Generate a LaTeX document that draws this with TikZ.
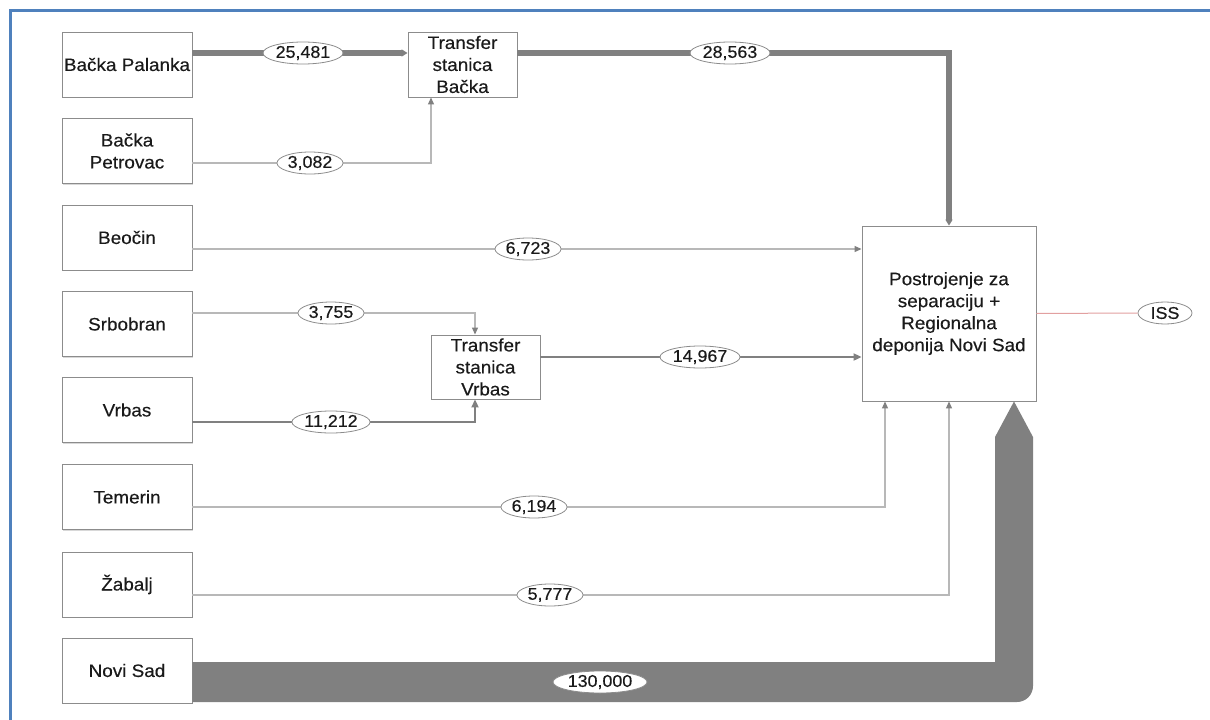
\documentclass[tikz,border=0pt]{standalone}
\usepackage{fontspec}
\setmainfont{Liberation Sans}[FakeStretch=1.05,FakeBold=0.3]
\usetikzlibrary{arrows.meta,shapes.geometric,shadows}
\definecolor{frameblue}{HTML}{4F81BD}
\definecolor{lgray}{HTML}{B8B8B8}
\definecolor{mgray}{HTML}{808080}
\definecolor{bgray}{HTML}{8C8C8C}
\definecolor{issred}{HTML}{E2A0A0}
\definecolor{txt}{HTML}{1A1A1A}
\begin{document}
\begin{tikzpicture}[x=1pt,y=-1pt,
  box/.style={draw=bgray, line width=0.9pt, fill=white, inner sep=0pt, align=center,
    minimum width=130pt, minimum height=65pt, text=txt,
    font=\fontsize{18}{22}\selectfont,
    drop shadow={shadow xshift=1.2pt, shadow yshift=-1.2pt, fill=black!30, opacity=0.5}},
  tbox/.style={box, minimum width=109pt, minimum height=65pt},
  lbl/.style={ellipse, draw=bgray, fill=white, line width=0.8pt, inner xsep=1pt, inner ysep=0pt,
    minimum height=22pt, text=txt, font=\fontsize{17}{17}\selectfont},
  thinc/.style={draw=lgray, line width=1.1pt, line join=miter,
    -{Triangle[length=7pt,width=6pt,color=mgray]}},
  medc/.style={draw=mgray, line width=2pt, line join=miter,
    -{Triangle[length=8pt,width=7pt]}},
  thickc/.style={draw=mgray, line width=5.5pt, line join=miter,
    -{Triangle[length=6pt,width=7pt]}},
  issline/.style={draw=issred, line width=1pt}
]
\useasboundingbox (0,0) rectangle (1210,720);
\fill[white] (0,0) rectangle (1210,720);
\draw[frameblue, line width=3pt] (10,721) -- (10,10) -- (1211,10);

% source boxes
\node[box] (bp)  at (127,64.5)  {Bačka Palanka};
\node[box] (bpe) at (127,151)   {Bačka\\Petrovac};
\node[box] (beo) at (127,237.5) {Beočin};
\node[box] (srb) at (127,324)   {Srbobran};
\node[box] (vrb) at (127,410)   {Vrbas};
\node[box] (tem) at (127,497)   {Temerin};
\node[box] (zab) at (127,584.5) {Žabalj};
\node[box] (ns)  at (127,670.5) {Novi Sad};

% transfer stations
\node[tbox] (tb) at (462.5,64.5) {Transfer\\stanica\\Bačka};
\node[tbox, minimum height=64pt] (tv) at (485.5,367) {Transfer\\stanica\\Vrbas};

% main plant
\node[box, minimum width=174pt, minimum height=175pt] (big) at (949,313.5)
  {Postrojenje za\\separaciju +\\Regionalna\\deponija Novi Sad};

% ISS
\node[lbl, minimum width=54pt, minimum height=22pt] (iss) at (1165,313) {ISS};

% Novi Sad band with arrow
\fill[mgray] (ns.east |- 0,662) -- (995,662) -- (995,437) -- (big.south -| 1014,0)
  -- (1033,437) -- (1033,686) arc[start angle=0, end angle=-90, radius=16pt]
  -- (ns.east |- 0,702) -- cycle;

% connectors
\draw[thickc] (bp.east |- 0,53) -- (tb.west |- 0,53);
\draw[thickc] (tb.east |- 0,53) -| (big.north);
\draw[thinc] (bpe.east |- 0,163) -| (tb.south -| 431,0);
\draw[thinc] (beo.east |- 0,249) -- (big.west |- 0,249);
\draw[thinc] (srb.east |- 0,313) -| (tv.north -| 475,0);
\draw[medc] (vrb.east |- 0,422) -| (tv.south -| 475,0);
\draw[medc] (tv.east |- 0,357) -- (big.west |- 0,357);
\draw[thinc] (tem.east |- 0,507) -| (big.south -| 885,0);
\draw[thinc] (zab.east |- 0,595) -| (big.south);
\draw[issline] (big.east) -- (iss.west);

% labels
\node[lbl] (l1) at (303,53)  {25,481};
\node[lbl] (l2) at (730,53)  {28,563};
\node[lbl] (l3) at (310,163) {3,082};
\node[lbl] (l4) at (528,249) {6,723};
\node[lbl] (l5) at (331,313) {3,755};
\node[lbl] (l6) at (331,422) {11,212};
\node[lbl] (l7) at (700,357) {14,967};
\node[lbl] (l8) at (534,507) {6,194};
\node[lbl] (l9) at (550,595) {5,777};
\node[lbl] (l10) at (600,682) {130,000};
\end{tikzpicture}
\end{document}
